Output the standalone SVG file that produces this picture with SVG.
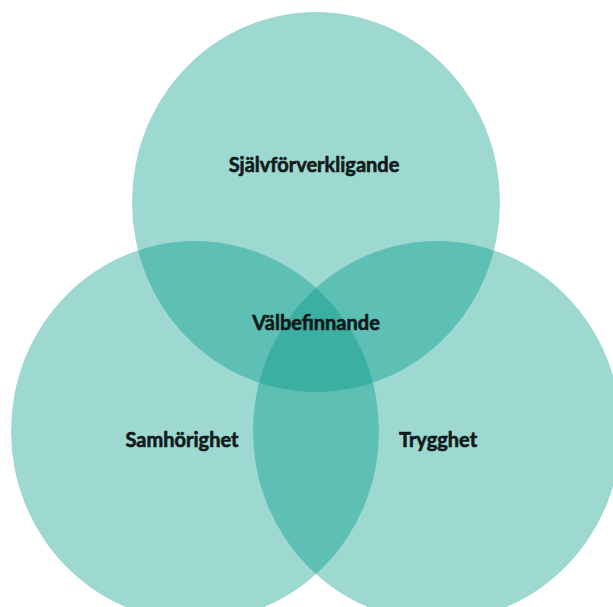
<svg xmlns="http://www.w3.org/2000/svg" width="613" height="607" viewBox="0 0 613 607">
  <style>
    .one { fill: #9dd8d1; }
    .two { fill: #5ebfb5; }
    .three { fill: #3bafa2; }
    .lbl { font-family: Lato, "Liberation Sans", sans-serif; font-weight: 700; font-size: 20px; fill: #111a1a; stroke: #111a1a; stroke-width: 0.6; text-anchor: middle; }
  </style>
  <defs>
    <clipPath id="cT"><ellipse cx="316" cy="202" rx="184" ry="190"/></clipPath>
    <clipPath id="cL"><ellipse cx="195" cy="431" rx="184" ry="190"/></clipPath>
    <clipPath id="cR"><ellipse cx="437" cy="431" rx="184" ry="190"/></clipPath>
  </defs>
  <rect width="613" height="607" fill="#ffffff"/>
  <g id="circles">
    <g id="top"><ellipse class="one" cx="316" cy="202" rx="184" ry="190"/></g>
    <g id="left"><ellipse class="one" cx="195" cy="431" rx="184" ry="190"/></g>
    <g id="right"><ellipse class="one" cx="437" cy="431" rx="184" ry="190"/></g>
  </g>
  <g id="overlaps">
    <ellipse class="two" cx="195" cy="431" rx="184" ry="190" clip-path="url(#cT)"/>
    <ellipse class="two" cx="437" cy="431" rx="184" ry="190" clip-path="url(#cT)"/>
    <ellipse class="two" cx="437" cy="431" rx="184" ry="190" clip-path="url(#cL)"/>
    <g clip-path="url(#cT)">
      <ellipse class="three" cx="437" cy="431" rx="184" ry="190" clip-path="url(#cL)"/>
    </g>
  </g>
  <g id="labels">
    <text class="lbl" x="314" y="172">Självförverkligande</text>
    <text class="lbl" x="316" y="330">Välbefinnande</text>
    <text class="lbl" x="182" y="447">Samhörighet</text>
    <text class="lbl" x="438" y="447">Trygghet</text>
  </g>
</svg>
